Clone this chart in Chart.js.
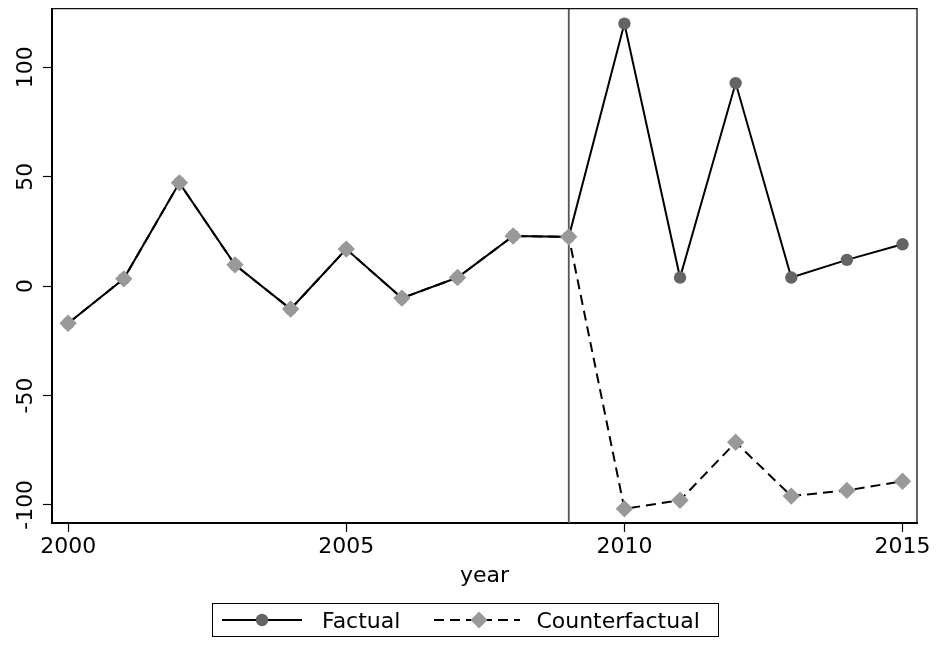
<!DOCTYPE html>
<html>
<head>
<meta charset="utf-8">
<style>
    body { margin: 0; background: #fff; }
    #wrap { position: relative; width: 936px; height: 648px; }
    #legend {
        position: absolute; left: 212px; top: 603px; height: 34px;
        border: 1px solid #000; box-sizing: border-box;
        display: flex; align-items: center; padding: 0 18px 0 9px;
        font: 22px "DejaVu Sans"; color: #000; white-space: nowrap;
    }
    #legend svg { display: block; }
</style>
</head>
<body>
<div id="wrap">
    <canvas id="chart"></canvas>
    <div id="legend">
        <svg width="80" height="20"><line x1="0" y1="10" x2="80" y2="10" stroke="#000" stroke-width="2"/><circle cx="40" cy="10" r="6.2" fill="#646464"/></svg>
        <span style="margin-left: 20px">Factual</span>
        <svg width="86" height="20" style="margin-left: 34px"><line x1="0" y1="10" x2="86" y2="10" stroke="#000" stroke-width="2" stroke-dasharray="10 6"/><polygon points="45,1.5 53.5,10 45,18.5 36.5,10" fill="#999"/></svg>
        <span style="margin-left: 16px">Counterfactual</span>
    </div>
</div>
<script src="https://cdn.jsdelivr.net/npm/chart.js"></script>
<script>
    const years = [2000, 2001, 2002, 2003, 2004, 2005, 2006, 2007, 2008, 2009, 2010, 2011, 2012, 2013, 2014, 2015];
    const factual = [-17, 3.3, 47.2, 9.7, -10.5, 16.9, -5.5, 3.9, 22.9, 22.5, 120, 3.9, 92.8, 3.9, 12, 19.1];
    const counterfactual = [-17, 3.3, 47.2, 9.7, -10.5, 16.9, -5.5, 3.9, 22.9, 22.5, -101.8, -97.9, -71.4, -96, -93.4, -89.2];
    const xTicks = [2000, 2005, 2010, 2015];
    const yTicks = [-100, -50, 0, 50, 100];
    const treatYear = 2009;

    Chart.defaults.font.family = '"DejaVu Sans"';
    Chart.defaults.font.size = 22;
    Chart.defaults.color = '#000';

    // frame on top/right + treatment line
    const framePlugin = {
        id: 'frame',
        beforeDatasetsDraw(chart) {
            const {ctx, chartArea: a, scales} = chart;
            const x = scales.x.getPixelForValue(treatYear);
            ctx.save();
            ctx.strokeStyle = '#555';
            ctx.lineWidth = 1.8;
            ctx.beginPath();
            ctx.moveTo(x, a.top);
            ctx.lineTo(x, a.bottom);
            ctx.stroke();
            ctx.strokeStyle = '#111';
            ctx.lineWidth = 1.3;
            ctx.beginPath();
            ctx.moveTo(a.left, a.top);
            ctx.lineTo(a.right, a.top);
            ctx.lineTo(a.right, a.bottom);
            ctx.stroke();
            ctx.restore();
        },
        afterDraw(chart) {
            // vertical y tick labels
            const {ctx, scales} = chart;
            const y = scales.y;
            ctx.save();
            ctx.font = '22px "DejaVu Sans"';
            ctx.fillStyle = '#000';
            ctx.textAlign = 'center';
            ctx.textBaseline = 'alphabetic';
            y.ticks.forEach(t => {
                ctx.save();
                ctx.translate(y.right - 20, y.getPixelForValue(t.value));
                ctx.rotate(-Math.PI / 2);
                ctx.fillText(String(t.value), 0, 0);
                ctx.restore();
            });
            ctx.restore();
        }
    };

    new Chart(document.getElementById('chart'), {
        type: 'line',
        data: {
            labels: years,
            datasets: [{
                label: 'Counterfactual',
                data: years.map((yr, i) => ({x: yr, y: counterfactual[i]})),
                borderColor: '#000',
                borderWidth: 2,
                borderDash: [10, 6],
                pointStyle: 'rectRot',
                pointRadius: 8.7,
                pointBackgroundColor: '#999',
                pointBorderWidth: 0,
                tension: 0
            }, {
                label: 'Factual',
                data: years.map((yr, i) => ({x: yr, y: factual[i]})),
                borderColor: '#000',
                borderWidth: 2,
                pointStyle: 'circle',
                pointRadius: 6.2,
                pointBackgroundColor: '#646464',
                pointBorderWidth: 0,
                tension: 0
            }]
        },
        options: {
            responsive: true,
            maintainAspectRatio: false,
            animation: false,
            layout: {padding: {top: 7, right: 19, bottom: 59, left: 0}},
            plugins: {legend: {display: false}, tooltip: {enabled: false}},
            scales: {
                x: {
                    type: 'linear',
                    min: 1999.71,
                    max: 2015.26,
                    afterBuildTicks: s => { s.ticks = xTicks.map(v => ({value: v})); },
                    afterFit: s => { s.height = 66; },
                    ticks: {callback: v => String(v), padding: 2, maxRotation: 0},
                    grid: {drawOnChartArea: false, tickLength: 9, tickColor: '#000', tickWidth: 1.2},
                    border: {color: '#000', width: 2},
                    title: {display: true, text: 'year', padding: 0}
                },
                y: {
                    min: -108.3,
                    max: 126.8,
                    afterBuildTicks: s => { s.ticks = yTicks.map(v => ({value: v})); },
                    afterFit: s => { s.width = 52; },
                    ticks: {display: false},
                    grid: {drawOnChartArea: false, tickLength: 9, tickColor: '#000', tickWidth: 1.2},
                    border: {color: '#000', width: 2}
                }
            }
        },
        plugins: [framePlugin]
    });
</script>
</body>
</html>
